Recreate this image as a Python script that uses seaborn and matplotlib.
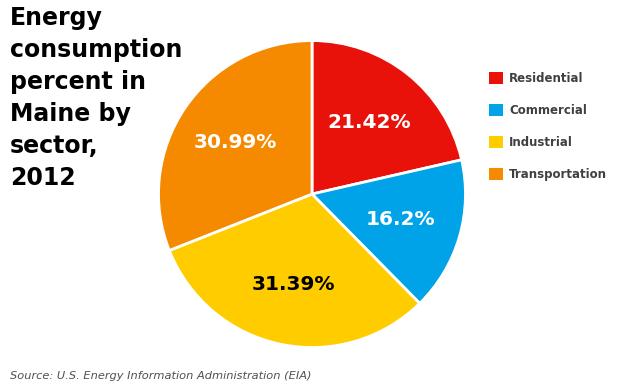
import numpy as np
import seaborn as sns
import matplotlib.pyplot as plt
from matplotlib.patches import Patch

sectores = ['Residential', 'Commercial', 'Industrial', 'Transportation']
porcentajes = [21.42, 16.2, 31.39, 30.99]
etiquetas = ['21.42%', '16.2%', '31.39%', '30.99%']
colores = ['#E8120B', '#00A2E8', '#FFCC00', '#F58A00']
color_texto = ['white', 'white', 'black', 'white']

sns.set_theme(style='white')
plt.rcParams['font.family'] = ['DejaVu Sans']

fig = plt.figure(figsize=(6.24, 3.9), dpi=100)
ax = fig.add_axes([0.2516, 0.105, 0.4968, 0.7949])

wedges, textos = ax.pie(porcentajes, colors=colores, startangle=90, counterclock=False,
                        wedgeprops=dict(edgecolor='white', linewidth=2))
ax.set_aspect('equal')
ax.set_xlim(-1.01, 1.01)
ax.set_ylim(-1.01, 1.01)

# etiquetas dentro de cada sector
for w, et, c in zip(wedges, etiquetas, color_texto):
    ang = np.deg2rad((w.theta1 + w.theta2) / 2)
    ax.text(0.6 * np.cos(ang), 0.6 * np.sin(ang), et, ha='center', va='center',
            fontsize=14.5, fontweight='bold', color=c)

fig.text(0.016, 0.985, 'Energy\nconsumption\npercent in\nMaine by\nsector,\n2012',
         ha='left', va='top', fontsize=17, fontweight='bold', color='black', linespacing=1.42)

handles = [Patch(facecolor=c, edgecolor='none') for c in colores]
leg = fig.legend(handles, sectores, loc='upper left', bbox_to_anchor=(0.767, 0.843), frameon=False,
                 prop=dict(size=8.5, weight='bold'), labelspacing=1.6,
                 handlelength=1.2, handleheight=1.2, handletextpad=0.5)
for t in leg.get_texts():
    t.set_color('#404040')

fig.text(0.016, 0.022, 'Source: U.S. Energy Information Administration (EIA)',
         ha='left', va='bottom', fontsize=8.2, style='italic', color='#505050')

fig.savefig('out.png', dpi=100)
